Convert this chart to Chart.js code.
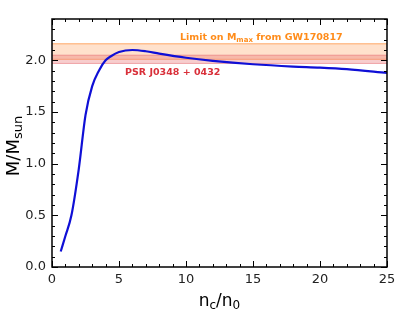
<!DOCTYPE html>
<html>
<head>
<meta charset="utf-8">
<script src="https://cdn.jsdelivr.net/npm/chart.js@4/dist/chart.umd.min.js"></script>
<style>
  html, body { margin: 0; padding: 0; background: #fff; }
  #wrap { width: 407px; height: 326px; }
</style>
</head>
<body>
<div id="wrap"><canvas id="massChart" width="407" height="326"></canvas></div>
<script>
// central density n_c/n_0 and maximum mass M/M_sun
const density = [0.65, 1.0, 1.45, 2.0, 2.5, 3.0, 3.5, 4.0, 4.4, 5, 6, 7, 8, 10, 12, 15, 18, 20, 22, 25];
const mass = [0.15, 0.30, 0.50, 0.95, 1.47, 1.75, 1.90, 2.00, 2.04, 2.08, 2.10, 2.088, 2.065, 2.025, 1.995, 1.962, 1.94, 1.93, 1.915, 1.878];

// observational bands
const gwBand = [2.01, 2.16];   // Limit on M_max from GW170817
const psrBand = [1.97, 2.05];  // PSR J0348+0432
const bandX = [0, 25];

const xTicks = [0, 5, 10, 15, 20, 25];
const yTicks = [0.0, 0.5, 1.0, 1.5, 2.0];

function bandPoints(v) {
    return bandX.map(x => ({ x: x, y: v }));
}

// inward ticks on all four sides + axis titles with subscripts
const frameTicks = {
    id: 'frameTicks',
    afterDraw(chart) {
        const ctx = chart.ctx;
        const a = chart.chartArea;
        const xs = chart.scales.x, ys = chart.scales.y;
        ctx.save();
        ctx.strokeStyle = '#000';
        ctx.lineWidth = 1;
        ctx.beginPath();
        for (let v = 0; v <= 25; v += 1) {
            const px = Math.round(xs.getPixelForValue(v)) + 0.5;
            const len = (v % 5 === 0) ? 6 : 3;
            ctx.moveTo(px, a.bottom); ctx.lineTo(px, a.bottom - len);
            ctx.moveTo(px, a.top); ctx.lineTo(px, a.top + len);
        }
        for (let i = 0; i <= 24; i++) {
            const v = i / 10;
            const py = Math.round(ys.getPixelForValue(v)) + 0.5;
            const len = (i % 5 === 0) ? 6 : 3;
            ctx.moveTo(a.left, py); ctx.lineTo(a.left + len, py);
            ctx.moveTo(a.right, py); ctx.lineTo(a.right - len, py);
        }
        ctx.stroke();
        ctx.lineWidth = 1.5;
        ctx.strokeRect(a.left, a.top, a.right - a.left, a.bottom - a.top);

        // x title n_c / n_0
        ctx.fillStyle = '#000';
        ctx.textBaseline = 'alphabetic';
        let big = '17px "DejaVu Sans"', small = '12px "DejaVu Sans"';
        const parts = [['n', big, 0], ['c', small, 3], ['/', big, 0], ['n', big, 0], ['0', small, 3]];
        let w = 0;
        parts.forEach(p => { ctx.font = p[1]; w += ctx.measureText(p[0]).width; });
        let cx = (a.left + a.right) / 2 - w / 2;
        const by = 306;
        parts.forEach(p => { ctx.font = p[1]; ctx.fillText(p[0], cx, by + p[2]); cx += ctx.measureText(p[0]).width; });

        // y title M / M_sun
        big = '18px "DejaVu Sans"'; small = '13px "DejaVu Sans"';
        ctx.save();
        ctx.translate(19, (a.top + a.bottom) / 2 + 3);
        ctx.rotate(-Math.PI / 2);
        const yparts = [['M', big, 0], ['/', big, 0], ['M', big, 0], ['sun', small, 3]];
        w = 0;
        yparts.forEach(p => { ctx.font = p[1]; w += ctx.measureText(p[0]).width; });
        cx = -w / 2;
        yparts.forEach(p => { ctx.font = p[1]; ctx.fillText(p[0], cx, p[2]); cx += ctx.measureText(p[0]).width; });
        ctx.restore();

        // band labels
        ctx.font = 'bold 9.5px "DejaVu Sans"';
        ctx.textAlign = 'left';
        ctx.fillStyle = '#ff8c1a';
        let tx = 180, ty = ys.getPixelForValue(gwBand[1]) - 4;
        ctx.fillText('Limit on M', tx, ty);
        tx += ctx.measureText('Limit on M').width;
        ctx.font = 'bold 7px "DejaVu Sans"';
        ctx.fillText('max', tx, ty + 2);
        tx += ctx.measureText('max').width;
        ctx.font = 'bold 9.5px "DejaVu Sans"';
        ctx.fillText(' from GW170817', tx, ty);
        ctx.fillStyle = '#d9303a';
        ctx.fillText('PSR J0348 + 0432', 125, ys.getPixelForValue(psrBand[0]) + 12);
        ctx.restore();
    }
};

document.addEventListener("DOMContentLoaded", function () {

    const canvas = document.getElementById("massChart");

    new Chart(canvas, {
        type: 'scatter',
        data: {
            datasets: [
                {
                    data: bandPoints(gwBand[0]),
                    showLine: true, pointRadius: 0, borderWidth: 1,
                    borderColor: 'rgba(255,140,60,0.6)', fill: false, order: 5
                },
                {
                    data: bandPoints(gwBand[1]),
                    showLine: true, pointRadius: 0, borderWidth: 1,
                    borderColor: 'rgba(255,160,90,0.9)',
                    backgroundColor: 'rgba(255,170,110,0.35)', fill: '-1', order: 4
                },
                {
                    data: bandPoints(psrBand[0]),
                    showLine: true, pointRadius: 0, borderWidth: 1,
                    borderColor: 'rgba(225,80,90,0.45)', fill: false, order: 3
                },
                {
                    data: bandPoints(psrBand[1]),
                    showLine: true, pointRadius: 0, borderWidth: 1,
                    borderColor: 'rgba(225,80,90,0.45)',
                    backgroundColor: 'rgba(230,90,90,0.3)', fill: '-1', order: 2
                },
                {
                    data: density.map((x, i) => ({ x: x, y: mass[i] })),
                    showLine: true, pointRadius: 0, borderWidth: 2.2,
                    borderColor: '#0f0fd6', fill: false,
                    cubicInterpolationMode: 'monotone', order: 1
                }
            ]
        },
        options: {
            responsive: false,
            animation: false,
            layout: { padding: { top: 19, right: 20, left: 0, bottom: 0 } },
            plugins: { legend: { display: false }, tooltip: { enabled: false } },
            scales: {
                x: {
                    type: 'linear', min: 0, max: 25,
                    grid: { display: false, drawTicks: false },
                    border: { display: false },
                    afterFit(s) { s.height = 59; },
                    afterBuildTicks(s) { s.ticks = xTicks.map(v => ({ value: v })); },
                    ticks: {
                        color: '#222', padding: 5,
                        font: { family: 'DejaVu Sans', size: 13 },
                        callback: v => String(v)
                    }
                },
                y: {
                    type: 'linear', min: 0, max: 2.4,
                    grid: { display: false, drawTicks: false },
                    border: { display: false },
                    afterFit(s) { s.width = 52; },
                    afterBuildTicks(s) { s.ticks = yTicks.map(v => ({ value: v })); },
                    ticks: {
                        color: '#222', padding: 6,
                        font: { family: 'DejaVu Sans', size: 13 },
                        callback: v => v.toFixed(1)
                    }
                }
            }
        },
        plugins: [frameTicks]
    });

});
</script>
</body>
</html>
